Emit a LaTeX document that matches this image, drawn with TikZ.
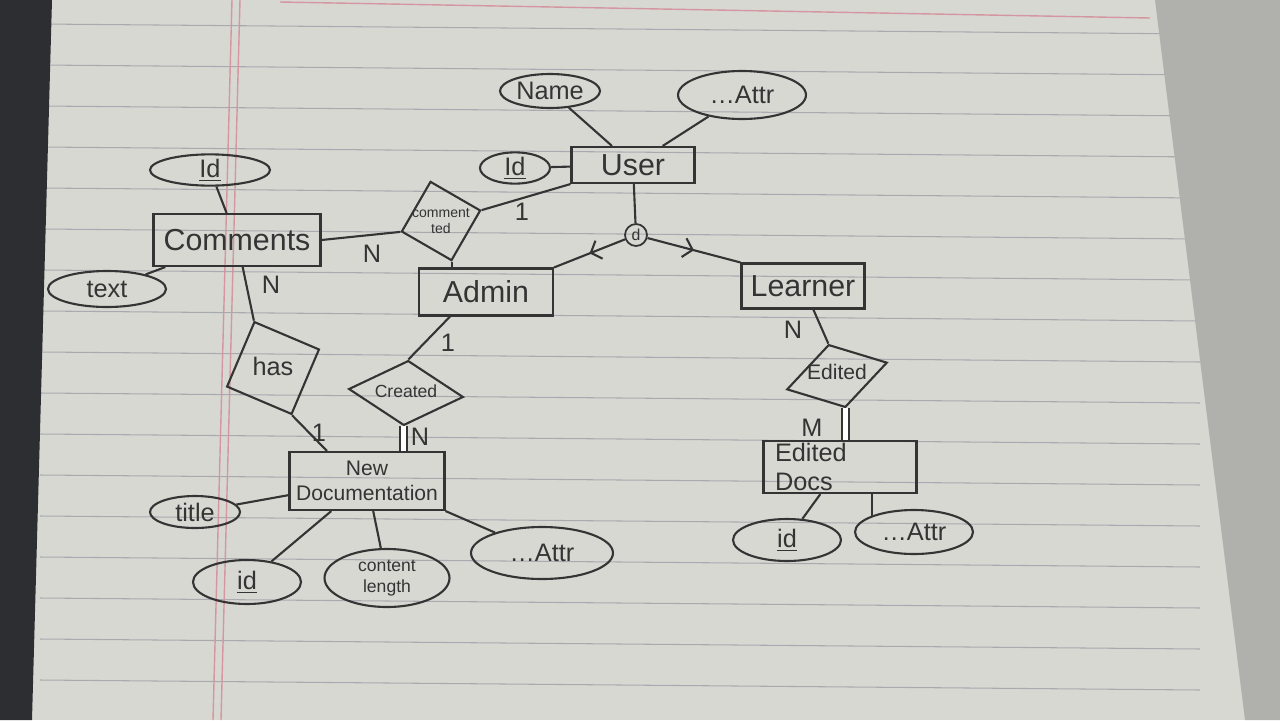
\documentclass[tikz,border=0pt]{standalone}
\usepackage{fontspec}
\setmainfont{Liberation Sans}
\usetikzlibrary{shapes.geometric,decorations.markings,arrows.meta}
\definecolor{paper}{RGB}{216,216,211}
\definecolor{ink}{RGB}{52,52,52}
\definecolor{rule}{RGB}{168,170,176}
\definecolor{margin}{RGB}{212,150,160}
\definecolor{desk}{RGB}{44,46,50}
\definecolor{pages}{RGB}{176,176,172}
\tikzset{
  entity/.style={draw=ink, text=ink, rectangle, line width=1.2pt, font=\LARGE, inner sep=0pt},
  attrib/.style={draw=ink, text=ink, ellipse, line width=1.2pt, font=\Large, inner sep=0pt},
  relation/.style={draw=ink, diamond, line width=1.2pt, inner sep=0pt},
  reltext/.style={text=ink, inner sep=1pt},
  card/.style={font=\Large, text=ink},
  link/.style={draw=ink, line width=1.2pt},
  twolink/.style={draw=ink, line width=0.9pt, double distance=3pt},
  midarrow/.style={postaction={decorate}, decoration={markings,
    mark=at position 0.5 with {\arrow{Straight Barb[length=5pt,width=11pt]}}}}
}
\begin{document}
\begin{tikzpicture}[x=0.02cm, y=-0.02cm]
  \useasboundingbox (0,0) rectangle (1280,720);
  % Paper, ruled lines and margin
  \fill[paper] (0,0) rectangle (1280,720);
  \foreach \y in {24,65,...,720}
    \draw[rule, line width=0.6pt] (40,\y) -- (1200,\y+10);
  \draw[margin, line width=0.8pt] (232,0) -- (213,720);
  \draw[margin, line width=0.8pt] (240,0) -- (221,720);
  \draw[margin, line width=0.8pt] (280,2) -- (1150,18);
  \fill[desk] (0,0) -- (52,0) -- (32,720) -- (0,720) -- cycle;
  \fill[pages] (1155,0) -- (1280,0) -- (1280,720) -- (1245,720) -- cycle;

  % User and its attributes
  \node[entity, minimum width=2.46cm, minimum height=0.72cm] (user) at (633,165) {User};
  \node[attrib, minimum width=2.0cm, minimum height=0.68cm] (uname) at (550,91) {Name};
  \node[attrib, minimum width=2.56cm, minimum height=0.96cm] (uattr) at (742,95) {\dots Attr};
  \node[attrib, minimum width=1.4cm, minimum height=0.56cm] (uid) at (515,168) {\underline{Id}};
  \draw[link] (uname) -- ([xshift=-0.42cm]user.north);
  \draw[link] (uattr) -- (user);
  \draw[link] (uid) -- (user);

  % Comments and its attributes
  \node[entity, minimum width=3.34cm, minimum height=1.04cm] (comments) at (237,240) {Comments};
  \node[attrib, minimum width=2.4cm, minimum height=0.6cm] (cid) at (210,170) {\underline{Id}};
  \node[attrib, minimum width=2.36cm, minimum height=0.72cm] (ctext) at (107,289) {text};
  \draw[link] (cid) -- (comments);
  \draw[link] (ctext) -- (comments);

  % Admin, Learner and the disjoint split
  \node[entity, minimum width=2.68cm, minimum height=0.94cm] (admin) at (486,292) {Admin};
  \node[entity, minimum width=2.46cm, minimum height=0.9cm] (learner) at (803,286) {Learner};
  \node[draw=ink, text=ink, circle, line width=1pt, inner sep=1.5pt, font=\small] (d) at (636,235) {d};
  \draw[link] (user) -- (d);
  \draw[link, midarrow] (d) -- (admin.north east);
  \draw[link, midarrow] (d) -- (learner.north west);

  % commented
  \node[relation, rotate=15, minimum width=1.64cm, minimum height=1.64cm] (commented) at (441,221) {};
  \node[reltext, font=\footnotesize, align=center] (commentedtext) at (441,221) {comment\\ted};
  \draw[link] (user.south west) -- (commented.east);
  \draw[link] (commented.west) -- (comments.east);
  \draw[link] (commented.south) -- (commented.south |- admin.north);
  \node[card] (cmt1) at (522,212) {1};
  \node[card] (cmtN) at (372,254) {N};

  % New Documentation and its attributes
  \node[entity, minimum width=3.1cm, minimum height=1.16cm, inner xsep=2pt,
        align=center, font=\large] (newdoc) at (367,481) {New\\Documentation};
  \node[attrib, minimum width=1.8cm, minimum height=0.64cm] (ntitle) at (195,512) {title};
  \node[attrib, minimum width=2.16cm, minimum height=0.88cm] (nid) at (247,582) {\underline{id}};
  \node[attrib, minimum width=2.5cm, minimum height=1.16cm, align=center,
        font=\normalsize] (nlen) at (387,578) {content\\length};
  \node[attrib, minimum width=2.84cm, minimum height=1.04cm] (nattr) at (542,553) {\dots Attr};
  \draw[link] (ntitle) -- (newdoc);
  \draw[link] (nid) -- (newdoc);
  \draw[link] (nlen) -- (newdoc);
  \draw[link] (nattr) -- (newdoc.south east);

  % has
  \node[relation, rotate=22, minimum size=2cm] (has) at (273,368) {};
  \node[reltext, font=\Large] (hastext) at (273,366) {has};
  \draw[link] (comments) -- (has.north);
  \draw[link] (has.south) -- ([xshift=-0.8cm]newdoc.north);
  \node[card] (hasN) at (271,285) {N};
  \node[card] (has1) at (319,433) {1};

  % Created
  \node[relation, rotate=-4, minimum width=2.3cm, minimum height=1.3cm] (created) at (406,393) {};
  \node[reltext, font=\normalsize] (createdtext) at (406,391) {Created};
  \draw[link] ([xshift=-0.72cm]admin.south) -- (created.north);
  \draw[twolink] (created.south) -- (created.south |- newdoc.north);
  \node[card] (crt1) at (448,343) {1};
  \node[card] (crtN) at (420,437) {N};

  % Edited Docs and its attributes
  \node[entity, minimum width=3.06cm, minimum height=1.04cm, inner xsep=6pt,
        text width=2.6cm, align=left, font=\Large] (edocs) at (840,467) {Edited\\[-2pt]Docs};
  \node[attrib, minimum width=2.16cm, minimum height=0.84cm] (eid) at (787,540) {\underline{id}};
  \node[attrib, minimum width=2.36cm, minimum height=0.88cm] (eattr) at (914,532) {\dots Attr};
  \draw[link] (eid) -- (edocs);
  \draw[link] (eattr.north west) -- (eattr.north west |- edocs.south);

  % Edited
  \node[relation, rotate=15, minimum width=2.08cm, minimum height=1.3cm] (edited) at (837,376) {};
  \node[reltext, font=\large] (editedtext) at (837,372) {Edited};
  \draw[link] (learner) -- (edited.north);
  \draw[twolink] (edited.south) -- (edited.south |- edocs.north);
  \node[card] (edtN) at (793,330) {N};
  \node[card] (edtM) at (812,428) {M};
\end{tikzpicture}
\end{document}
